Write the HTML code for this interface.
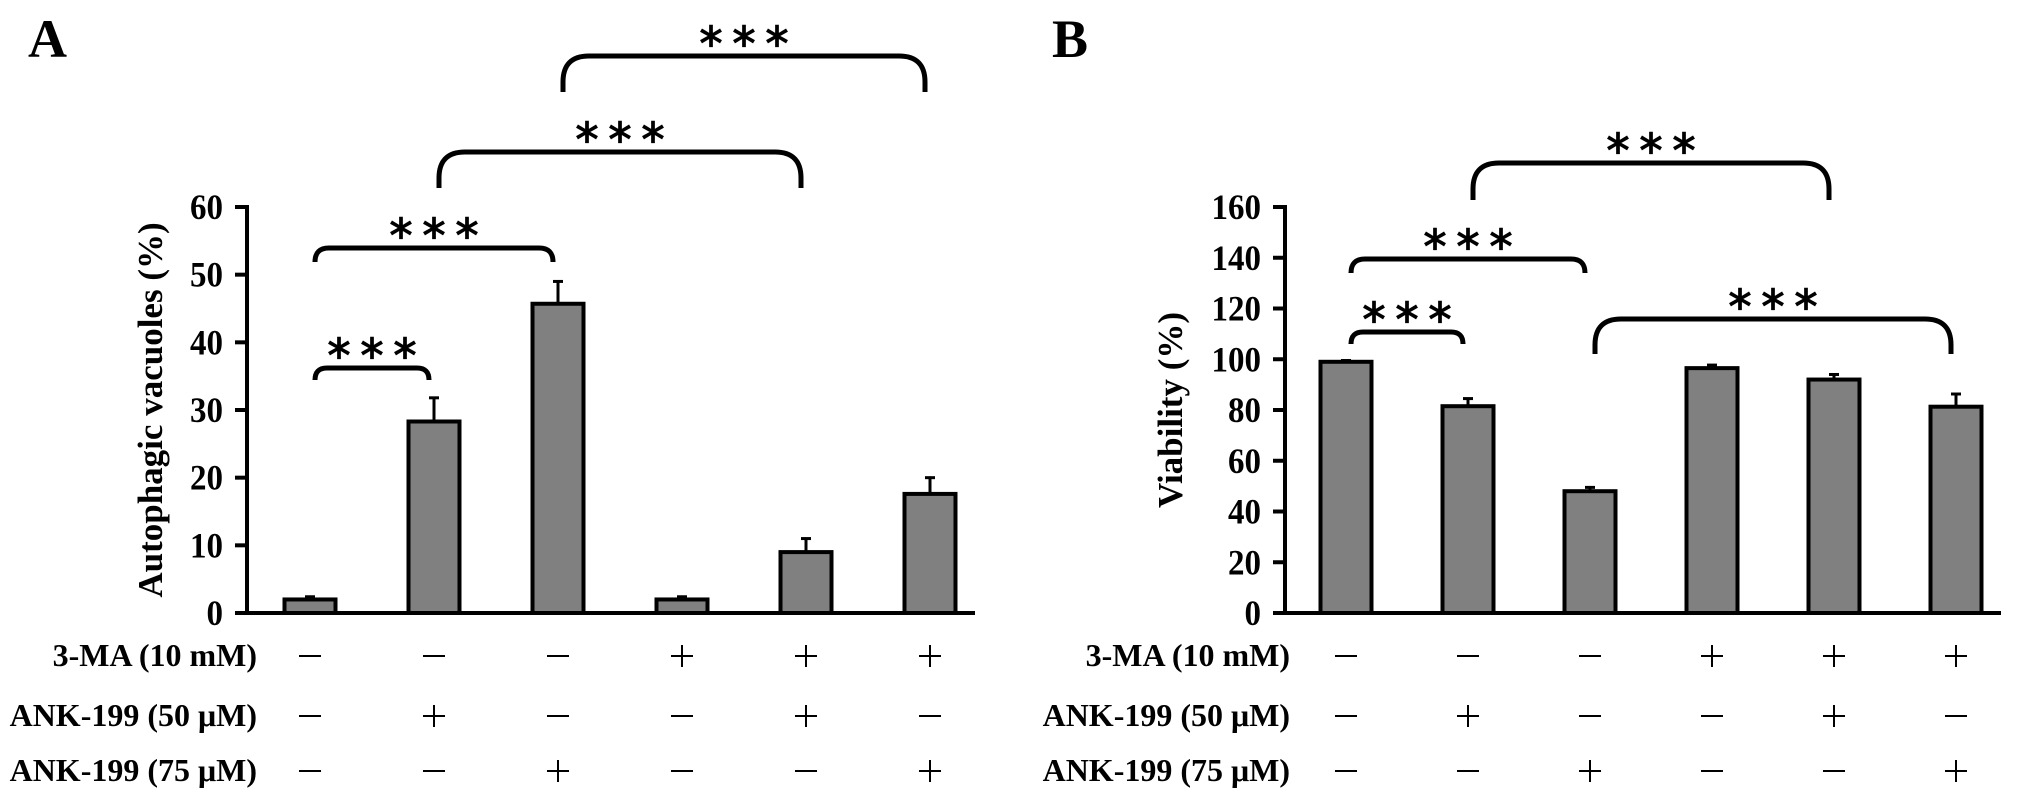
<!DOCTYPE html>
<html><head><meta charset="utf-8"><style>
html,body{margin:0;padding:0;background:#fff}
svg{display:block}
text{font-family:"Liberation Serif",serif;font-weight:bold;fill:#000}
</style></head><body>
<svg id="fig" width="2031" height="801" viewBox="0 0 2031 801" xmlns="http://www.w3.org/2000/svg"></svg>
<script>
const categories = ["ctrl","ank50","ank75","ma","ma_ank50","ma_ank75"];
const maRow = ["-","-","-","+","+","+"];
const ank50Row = ["-","+","-","-","+","-"];
const ank75Row = ["-","-","+","-","-","+"];
const rowLabels = ["3-MA (10 mM)","ANK-199 (50 μM)","ANK-199 (75 μM)"];
const valuesA = [2, 28.3, 45.7, 2, 9, 17.6];
const errorsA = [0.4, 3.5, 3.3, 0.4, 2, 2.4];
const ticksA = [0,10,20,30,40,50,60];
const valuesB = [99, 81.5, 48, 96.5, 92, 81.3];
const errorsB = [0.5, 3, 1.5, 1.2, 2, 5];
const ticksB = [0,20,40,60,80,100,120,140,160];
const sigA = [[0,1],[0,2],[1,4],[2,5]];
const sigB = [[0,1],[0,2],[2,5],[1,4]];

const svg = document.getElementById('fig');
const NS = "http://www.w3.org/2000/svg";
function mk(tag, attrs, parent){
  const e = document.createElementNS(NS, tag);
  for (const k in attrs) e.setAttribute(k, attrs[k]);
  (parent||svg).appendChild(e);
  return e;
}

const panels = [
  {id:'a', letter:'A', lx:28, axisX:247, axisEnd:975, y0:613, yTop:207, max:60, first:310, step:124,
   values:valuesA, errors:errorsA, ticks:ticksA, title:'Autophagic vacuoles (%)', titleX:162, titleY:410, labelRight:257, sig:sigA,
   br:[{top:368,end:380,r:12},{top:248,end:261,r:14},{top:152,end:188,r:26},{top:56,end:92,r:26}]},
  {id:'b', letter:'B', lx:1052, axisX:1285, axisEnd:2001, y0:613, yTop:207, max:160, first:1346, step:122,
   values:valuesB, errors:errorsB, ticks:ticksB, title:'Viability (%)', titleX:1182, titleY:410, labelRight:1290, sig:sigB,
   br:[{top:332,end:343,r:12},{top:259,end:272,r:14},{top:319,end:354,r:26},{top:163,end:200,r:26}]}
];

panels.forEach(p => {
  const g = mk('g', {});
  
  
  const yScale = v => p.y0 - (v / p.max) * (p.y0 - p.yTop);
  const xScale = i => p.first + i * p.step;

  const L = mk('text', {x:p.lx, y:57, 'font-size':54}, g);
  L.textContent = p.letter;
  
  

  const ya = mk('line', {x1:p.axisX, y1:p.yTop-2, x2:p.axisX, y2:p.y0+2, stroke:'#000','stroke-width':4}, g);
  
  
  const xa = mk('line', {x1:p.axisX-12, y1:p.y0, x2:p.axisEnd, y2:p.y0, stroke:'#000','stroke-width':4}, g);
  
  
  p.ticks.forEach(t => {
    const y = yScale(t);
    const tk = mk('line', {x1:p.axisX-12, y1:y, x2:p.axisX, y2:y, stroke:'#000','stroke-width':4}, g);
    
    
    const s = String(t);
    const tl = mk('text', {x:p.axisX-24, y:y+12, 'font-size':36, 'text-anchor':'end', textLength:s.length*16.5, lengthAdjust:'spacingAndGlyphs'}, g);
    tl.textContent = s;
    
    
  });
  const tt = mk('text', {x:0, y:0, 'font-size':35, 'text-anchor':'middle', transform:`translate(${p.titleX},${p.titleY}) rotate(-90)`}, g);
  tt.textContent = p.title;
  
  

  p.values.forEach((v, i) => {
    const cx = xScale(i), w = 51;
    const yt = yScale(v), ye = yScale(v + p.errors[i]);
    const el = mk('line', {x1:cx, y1:yt, x2:cx, y2:ye, stroke:'#000','stroke-width':3}, g);
    
    
    const cap = mk('line', {x1:cx-5, y1:ye, x2:cx+5, y2:ye, stroke:'#000','stroke-width':3}, g);
    
    
    const r = mk('rect', {x:cx-w/2, y:yt, width:w, height:p.y0-yt, fill:'#808080', stroke:'#000','stroke-width':4}, g);
    
    
  });

  const rows = [maRow, ank50Row, ank75Row];
  const rowY = [666, 726, 781];
  rows.forEach((row, ri) => {
    const lt = mk('text', {x:p.labelRight, y:rowY[ri], 'font-size':32, 'text-anchor':'end'}, g);
    lt.textContent = rowLabels[ri];
    
    
    row.forEach((s, i) => {
      const cx = xScale(i), cy = rowY[ri] - 10;
      const h = mk('line', {x1:cx-11, y1:cy, x2:cx+11, y2:cy, stroke:'#000','stroke-width':2}, g);
      
      
      if (s === '+') {
        const v = mk('line', {x1:cx, y1:cy-11, x2:cx, y2:cy+11, stroke:'#000','stroke-width':2}, g);
        
        
      }
    });
  });

  p.sig.forEach((pr, k) => {
    const b = p.br[k];
    const x1 = xScale(pr[0]) + 5, x2 = xScale(pr[1]) - 5;
    const rr = b.r;
    const d = `M${x1},${b.end} L${x1},${b.top+rr} Q${x1},${b.top} ${x1+rr},${b.top} L${x2-rr},${b.top} Q${x2},${b.top} ${x2},${b.top+rr} L${x2},${b.end}`;
    const path = mk('path', {d:d, fill:'none', stroke:'#000','stroke-width':5}, g);
    
    
    const st = mk('text', {x:(x1+x2)/2 + 5, y:b.top+4, 'font-size':46, 'text-anchor':'middle', 'letter-spacing':'10', style:'font-family:"DejaVu Sans",sans-serif;font-weight:normal;stroke:#000;stroke-width:1.2'}, g);
    st.textContent = '***';
    
    
  });
});
</script>
</body></html>
